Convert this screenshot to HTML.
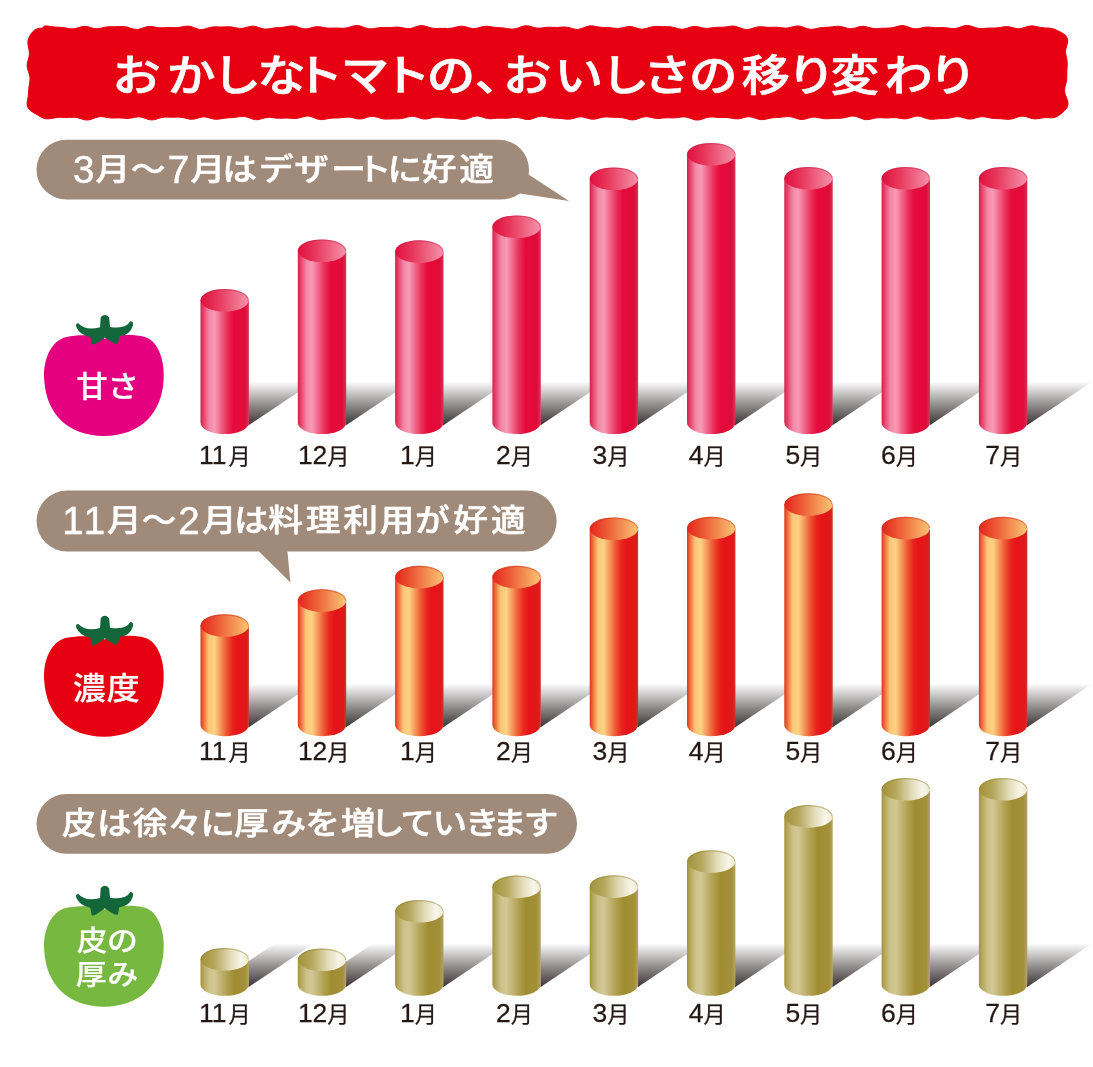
<!DOCTYPE html>
<html lang="ja"><head><meta charset="utf-8"><title>おかしなトマトの、おいしさの移り変わり</title>
<style>html,body{margin:0;padding:0;background:#fff}body{width:1093px;height:1067px;overflow:hidden;font-family:"Liberation Sans", "Noto Sans CJK JP", sans-serif}svg{display:block}</style>
</head><body>
<svg width="1093" height="1067" viewBox="0 0 1093 1067">
<defs>
<filter id="rough" x="-2%" y="-8%" width="104%" height="116%">
 <feTurbulence type="fractalNoise" baseFrequency="0.035" numOctaves="2" seed="7" result="n"/>
 <feDisplacementMap in="SourceGraphic" in2="n" scale="9" xChannelSelector="R" yChannelSelector="G"/>
</filter>
<linearGradient id="g1" x1="0" x2="1" y1="0" y2="0">
 <stop offset="0" stop-color="#d51f47"/><stop offset="0.06" stop-color="#e4416a"/><stop offset="0.18" stop-color="#f388a6"/><stop offset="0.29" stop-color="#f79bb5"/><stop offset="0.42" stop-color="#f0668a"/><stop offset="0.55" stop-color="#e9305a"/><stop offset="0.68" stop-color="#e60a3b"/><stop offset="0.92" stop-color="#e00b39"/><stop offset="1" stop-color="#d03857"/>
</linearGradient>
<linearGradient id="t1" x1="0" x2="1" y1="0" y2="0">
 <stop offset="0" stop-color="#df103c"/><stop offset="0.35" stop-color="#e7365a"/><stop offset="1" stop-color="#f593ab"/>
</linearGradient>
<linearGradient id="g2" x1="0" x2="1" y1="0" y2="0">
 <stop offset="0" stop-color="#dc3420"/><stop offset="0.06" stop-color="#ee6a36"/><stop offset="0.17" stop-color="#fcc678"/><stop offset="0.29" stop-color="#fdd283"/><stop offset="0.42" stop-color="#f5935a"/><stop offset="0.53" stop-color="#ee5a34"/><stop offset="0.66" stop-color="#e8241c"/><stop offset="0.76" stop-color="#e6141a"/><stop offset="0.94" stop-color="#e01818"/><stop offset="1" stop-color="#c23a2a"/>
</linearGradient>
<linearGradient id="t2" x1="0" x2="1" y1="0" y2="0">
 <stop offset="0" stop-color="#e4241c"/><stop offset="0.35" stop-color="#ec5a34"/><stop offset="1" stop-color="#fcc674"/>
</linearGradient>
<linearGradient id="g3" x1="0" x2="1" y1="0" y2="0">
 <stop offset="0" stop-color="#a3933a"/><stop offset="0.06" stop-color="#b4a65a"/><stop offset="0.18" stop-color="#cdc28a"/><stop offset="0.29" stop-color="#d3c894"/><stop offset="0.42" stop-color="#c1b374"/><stop offset="0.55" stop-color="#b0a04e"/><stop offset="0.7" stop-color="#a08c30"/><stop offset="0.92" stop-color="#a4903a"/><stop offset="1" stop-color="#b3a464"/>
</linearGradient>
<linearGradient id="t3" x1="0" x2="1" y1="0" y2="0">
 <stop offset="0" stop-color="#a3923a"/><stop offset="0.3" stop-color="#b6a85e"/><stop offset="0.62" stop-color="#e2dcb8"/><stop offset="0.85" stop-color="#f8f6ea"/><stop offset="1" stop-color="#efeacf"/>
</linearGradient>
</defs>
<rect width="1093" height="1067" fill="#fff"/>
<path d="M44.5,26 L47,25.98 L49.5,26.27 L52.01,26.66 L54.51,26.97 L57.01,27.15 L59.51,27.27 L62.02,27.45 L64.52,27.79 L67.02,28.26 L69.52,28.68 L72.03,28.86 L74.53,28.64 L77.03,28.05 L79.53,27.28 L82.04,26.63 L84.54,26.37 L87.04,26.61 L89.54,27.24 L92.05,28 L94.55,28.56 L97.05,28.72 L99.55,28.45 L102.06,27.9 L104.56,27.31 L107.06,26.88 L109.56,26.7 L112.07,26.7 L114.57,26.73 L117.07,26.68 L119.57,26.56 L122.08,26.49 L124.58,26.63 L127.08,27.1 L129.58,27.85 L132.09,28.68 L134.59,29.3 L137.09,29.46 L139.59,29.07 L142.1,28.28 L144.6,27.37 L147.1,26.68 L149.6,26.41 L152.11,26.58 L154.61,27.03 L157.11,27.5 L159.61,27.79 L162.12,27.82 L164.62,27.66 L167.12,27.49 L169.62,27.42 L172.13,27.5 L174.63,27.6 L177.13,27.58 L179.63,27.31 L182.14,26.85 L184.64,26.36 L187.14,26.1 L189.64,26.27 L192.15,26.91 L194.65,27.86 L197.15,28.8 L199.65,29.41 L202.16,29.5 L204.66,29.07 L207.16,28.34 L209.66,27.59 L212.17,27.06 L214.67,26.84 L217.17,26.85 L219.67,26.94 L222.18,26.96 L224.68,26.87 L227.18,26.77 L229.68,26.8 L232.19,27.07 L234.69,27.56 L237.19,28.08 L239.69,28.4 L242.2,28.34 L244.7,27.87 L247.2,27.14 L249.7,26.47 L252.21,26.14 L254.71,26.32 L257.21,26.96 L259.71,27.81 L262.22,28.56 L264.72,28.98 L267.22,28.98 L269.72,28.67 L272.23,28.24 L274.73,27.87 L277.23,27.65 L279.73,27.5 L282.24,27.3 L284.74,26.96 L287.24,26.49 L289.74,26.07 L292.25,25.89 L294.75,26.13 L297.25,26.77 L299.75,27.65 L302.26,28.44 L304.76,28.87 L307.26,28.78 L309.76,28.25 L312.27,27.53 L314.77,26.92 L317.27,26.65 L319.77,26.79 L322.28,27.22 L324.78,27.7 L327.28,28.03 L329.78,28.13 L332.29,28.07 L334.79,27.99 L337.29,28 L339.79,28.12 L342.3,28.22 L344.8,28.14 L347.3,27.74 L349.8,27.05 L352.31,26.25 L354.81,25.63 L357.31,25.46 L359.81,25.84 L362.32,26.66 L364.82,27.65 L367.32,28.46 L369.82,28.87 L372.33,28.8 L374.83,28.42 L377.33,27.95 L379.83,27.61 L382.34,27.49 L384.84,27.54 L387.34,27.6 L389.84,27.54 L392.35,27.35 L394.85,27.13 L397.35,27.05 L399.85,27.24 L402.36,27.68 L404.86,28.21 L407.36,28.57 L409.86,28.53 L412.37,28.03 L414.87,27.18 L417.37,26.3 L419.87,25.7 L422.38,25.61 L424.88,26.02 L427.38,26.76 L429.88,27.56 L432.39,28.15 L434.89,28.42 L437.39,28.45 L439.89,28.36 L442.4,28.32 L444.9,28.36 L447.4,28.41 L449.9,28.31 L452.41,27.96 L454.91,27.38 L457.41,26.73 L459.91,26.28 L462.42,26.22 L464.92,26.62 L467.42,27.34 L469.92,28.09 L472.43,28.55 L474.93,28.54 L477.43,28.07 L479.93,27.35 L482.44,26.67 L484.94,26.29 L487.44,26.29 L489.94,26.61 L492.45,27.03 L494.95,27.39 L497.45,27.6 L499.95,27.72 L502.46,27.86 L504.96,28.15 L507.46,28.56 L509.96,28.96 L512.47,29.12 L514.97,28.87 L517.47,28.19 L519.97,27.25 L522.48,26.36 L524.98,25.81 L527.48,25.8 L529.98,26.28 L532.49,27.02 L534.99,27.72 L537.49,28.12 L539.99,28.14 L542.5,27.87 L545,27.52 L547.5,27.27 L550,27.23 L552.5,27.32 L555.01,27.42 L557.51,27.39 L560.01,27.22 L562.51,27.03 L565.02,26.99 L567.52,27.26 L570.02,27.85 L572.52,28.59 L575.03,29.19 L577.53,29.38 L580.03,29.03 L582.53,28.21 L585.04,27.21 L587.54,26.34 L590.04,25.87 L592.54,25.88 L595.05,26.26 L597.55,26.77 L600.05,27.19 L602.55,27.42 L605.06,27.49 L607.56,27.53 L610.06,27.68 L612.56,27.96 L615.07,28.25 L617.57,28.39 L620.07,28.23 L622.57,27.76 L625.08,27.14 L627.58,26.64 L630.08,26.5 L632.58,26.84 L635.09,27.55 L637.59,28.36 L640.09,28.95 L642.59,29.08 L645.1,28.72 L647.6,28.03 L650.1,27.26 L652.6,26.68 L655.11,26.41 L657.61,26.41 L660.11,26.53 L662.61,26.63 L665.12,26.64 L667.62,26.65 L670.12,26.8 L672.62,27.19 L675.13,27.82 L677.63,28.53 L680.13,29.07 L682.63,29.19 L685.14,28.81 L687.64,28.06 L690.14,27.2 L692.64,26.58 L695.15,26.4 L697.65,26.7 L700.15,27.29 L702.65,27.9 L705.16,28.28 L707.66,28.3 L710.16,28.05 L712.66,27.69 L715.17,27.4 L717.67,27.26 L720.17,27.23 L722.67,27.18 L725.18,26.98 L727.68,26.63 L730.18,26.26 L732.68,26.09 L735.19,26.31 L737.69,26.97 L740.19,27.91 L742.69,28.83 L745.2,29.43 L747.7,29.49 L750.2,29.02 L752.7,28.24 L755.21,27.43 L757.71,26.89 L760.21,26.72 L762.71,26.85 L765.22,27.11 L767.72,27.3 L770.22,27.34 L772.72,27.26 L775.23,27.2 L777.73,27.3 L780.23,27.56 L782.73,27.89 L785.24,28.08 L787.74,27.95 L790.24,27.48 L792.74,26.8 L795.25,26.2 L797.75,25.95 L800.25,26.22 L802.75,26.95 L805.26,27.91 L807.76,28.76 L810.26,29.23 L812.76,29.23 L815.27,28.84 L817.77,28.28 L820.27,27.78 L822.77,27.47 L825.28,27.32 L827.78,27.2 L830.28,27.01 L832.78,26.71 L835.29,26.39 L837.79,26.25 L840.29,26.43 L842.79,26.96 L845.3,27.69 L847.8,28.35 L850.3,28.67 L852.8,28.5 L855.31,27.91 L857.81,27.14 L860.31,26.52 L862.81,26.3 L865.32,26.55 L867.82,27.14 L870.32,27.81 L872.82,28.33 L875.33,28.55 L877.83,28.5 L880.33,28.33 L882.83,28.19 L885.34,28.14 L887.84,28.11 L890.34,27.98 L892.84,27.6 L895.35,26.99 L897.85,26.27 L900.35,25.72 L902.85,25.58 L905.36,25.96 L907.86,26.77 L910.36,27.72 L912.86,28.5 L915.37,28.84 L917.87,28.68 L920.37,28.18 L922.87,27.6 L925.38,27.18 L927.88,27.07 L930.38,27.21 L932.88,27.46 L935.39,27.64 L937.89,27.67 L940.39,27.59 L942.89,27.55 L945.4,27.67 L947.9,27.98 L950.4,28.36 L952.9,28.59 L955.41,28.46 L957.91,27.9 L960.41,27.03 L962.91,26.14 L965.42,25.54 L967.92,25.46 L970.42,25.92 L972.92,26.75 L975.43,27.62 L977.93,28.27 L980.43,28.55 L982.93,28.5 L985.44,28.28 L987.94,28.09 L990.44,28.02 L992.94,28.03 L995.45,28.01 L997.95,27.82 L1000.45,27.44 L1002.95,26.98 L1005.46,26.65 L1007.96,26.65 L1010.46,27.03 L1012.96,27.69 L1015.47,28.35 L1017.97,28.71 L1020.47,28.59 L1022.97,28 L1025.48,27.15 L1027.98,26.36 L1030.48,25.9 L1032.98,25.91 L1035.49,26.31 L1037.99,26.89 L1040.49,27.42 L1042.99,27.76 L1045.5,27.93 L1048,28.05 L1050.5,28.22 L1052.85,28.69 L1055.05,29.51 L1057.13,30.49 L1059.21,31.51 L1061.4,32.6 L1063.65,33.95 L1065.68,35.76 L1067.14,38.09 L1067.72,40.77 L1067.4,43.5 L1066.62,46.04 L1065.92,48.59 L1065.59,51.13 L1065.72,53.67 L1066.19,56.22 L1066.75,58.76 L1067.15,61.3 L1067.27,63.85 L1067.16,66.39 L1066.97,68.93 L1066.84,71.48 L1066.82,74.02 L1066.84,76.57 L1066.73,79.11 L1066.36,81.65 L1065.75,84.2 L1065.09,86.74 L1064.65,89.28 L1064.67,91.83 L1065.24,94.37 L1066.18,96.91 L1067.2,99.46 L1067.94,102 L1067.96,104.77 L1067.07,107.38 L1065.52,109.66 L1063.66,111.56 L1061.72,113.22 L1059.76,114.75 L1057.69,116.11 L1055.43,117.17 L1053,117.76 L1050.5,117.83 L1048,117.67 L1045.5,117.64 L1042.99,117.83 L1040.49,118.23 L1037.99,118.66 L1035.49,118.89 L1032.98,118.71 L1030.48,118.13 L1027.98,117.3 L1025.48,116.54 L1022.97,116.14 L1020.47,116.28 L1017.97,116.91 L1015.47,117.8 L1012.96,118.63 L1010.46,119.17 L1007.96,119.32 L1005.46,119.18 L1002.95,118.93 L1000.45,118.73 L997.95,118.63 L995.45,118.57 L992.94,118.4 L990.44,118.04 L987.94,117.51 L985.44,116.99 L982.93,116.69 L980.43,116.8 L977.93,117.32 L975.43,118.07 L972.92,118.76 L970.42,119.09 L967.92,118.93 L965.42,118.35 L962.91,117.59 L960.41,116.96 L957.91,116.7 L955.41,116.87 L952.9,117.34 L950.4,117.88 L947.9,118.31 L945.4,118.53 L942.89,118.61 L940.39,118.68 L937.89,118.84 L935.39,119.09 L932.88,119.29 L930.38,119.25 L927.88,118.85 L925.38,118.1 L922.87,117.2 L920.37,116.44 L917.87,116.11 L915.37,116.33 L912.86,116.99 L910.36,117.84 L907.86,118.55 L905.36,118.88 L902.85,118.79 L900.35,118.41 L897.85,117.98 L895.35,117.7 L892.84,117.66 L890.34,117.79 L887.84,117.94 L885.34,117.98 L882.83,117.88 L880.33,117.76 L877.83,117.79 L875.33,118.08 L872.82,118.61 L870.32,119.22 L867.82,119.62 L865.32,119.58 L862.81,119.03 L860.31,118.1 L857.81,117.1 L855.31,116.35 L852.8,116.09 L850.3,116.33 L847.8,116.92 L845.3,117.58 L842.79,118.08 L840.29,118.32 L837.79,118.35 L835.29,118.33 L832.78,118.4 L830.28,118.57 L827.78,118.75 L825.28,118.78 L822.77,118.55 L820.27,118.08 L817.77,117.52 L815.27,117.13 L812.76,117.13 L810.26,117.56 L807.76,118.3 L805.26,119.04 L802.75,119.47 L800.25,119.41 L797.75,118.87 L795.25,118.05 L792.74,117.26 L790.24,116.74 L787.74,116.6 L785.24,116.77 L782.73,117.07 L780.23,117.33 L777.73,117.49 L775.23,117.6 L772.72,117.8 L770.22,118.19 L767.72,118.75 L765.22,119.31 L762.71,119.64 L760.21,119.55 L757.71,119.01 L755.21,118.17 L752.7,117.35 L750.2,116.83 L747.7,116.81 L745.2,117.25 L742.69,117.93 L740.19,118.55 L737.69,118.86 L735.19,118.78 L732.68,118.41 L730.18,117.96 L727.68,117.63 L725.18,117.48 L722.67,117.49 L720.17,117.5 L717.67,117.4 L715.17,117.19 L712.66,116.99 L710.16,116.99 L707.66,117.35 L705.16,118.06 L702.65,118.95 L700.15,119.72 L697.65,120.08 L695.15,119.88 L692.64,119.19 L690.14,118.27 L687.64,117.44 L685.14,116.96 L682.63,116.92 L680.13,117.19 L677.63,117.57 L675.13,117.85 L672.62,117.93 L670.12,117.87 L667.62,117.81 L665.12,117.88 L662.61,118.09 L660.11,118.35 L657.61,118.45 L655.11,118.28 L652.6,117.81 L650.1,117.22 L647.6,116.77 L645.1,116.71 L642.59,117.14 L640.09,117.97 L637.59,118.92 L635.09,119.65 L632.58,119.92 L630.08,119.68 L627.58,119.07 L625.08,118.36 L622.57,117.79 L620.07,117.47 L617.57,117.36 L615.07,117.35 L612.56,117.27 L610.06,117.11 L607.56,116.96 L605.06,116.96 L602.55,117.25 L600.05,117.82 L597.55,118.51 L595.05,119.06 L592.54,119.22 L590.04,118.9 L587.54,118.23 L585.04,117.47 L582.53,116.95 L580.03,116.87 L577.53,117.27 L575.03,117.96 L572.52,118.66 L570.02,119.12 L567.52,119.23 L565.02,119.03 L562.51,118.71 L560.01,118.42 L557.51,118.26 L555.01,118.15 L552.5,117.98 L550,117.62 L547.5,117.1 L545,116.56 L542.5,116.23 L539.99,116.33 L537.49,116.9 L534.99,117.8 L532.49,118.74 L529.98,119.4 L527.48,119.56 L524.98,119.22 L522.48,118.57 L519.97,117.92 L517.47,117.51 L514.97,117.45 L512.47,117.67 L509.96,118 L507.46,118.22 L504.96,118.28 L502.46,118.2 L499.95,118.13 L497.45,118.2 L494.95,118.42 L492.45,118.68 L489.94,118.77 L487.44,118.52 L484.94,117.91 L482.44,117.1 L479.93,116.35 L477.43,115.99 L474.93,116.17 L472.43,116.85 L469.92,117.81 L467.42,118.71 L464.92,119.28 L462.42,119.41 L459.91,119.18 L457.41,118.8 L454.91,118.48 L452.41,118.31 L449.9,118.27 L447.4,118.22 L444.9,118.05 L442.4,117.72 L439.89,117.36 L437.39,117.15 L434.89,117.25 L432.39,117.69 L429.88,118.32 L427.38,118.88 L424.88,119.09 L422.38,118.82 L419.87,118.14 L417.37,117.28 L414.87,116.59 L412.37,116.32 L409.86,116.54 L407.36,117.12 L404.86,117.84 L402.36,118.43 L399.85,118.76 L397.35,118.86 L394.85,118.86 L392.35,118.89 L389.84,119 L387.34,119.11 L384.84,119.06 L382.34,118.72 L379.83,118.08 L377.33,117.3 L374.83,116.65 L372.33,116.38 L369.82,116.62 L367.32,117.28 L364.82,118.1 L362.32,118.76 L359.81,119.01 L357.31,118.79 L354.81,118.25 L352.31,117.64 L349.8,117.23 L347.3,117.14 L344.8,117.33 L342.3,117.63 L339.79,117.87 L337.29,117.99 L334.79,118.03 L332.29,118.11 L329.78,118.38 L327.28,118.83 L324.78,119.33 L322.28,119.65 L319.77,119.56 L317.27,119 L314.77,118.07 L312.27,117.08 L309.76,116.34 L307.26,116.1 L304.76,116.4 L302.26,117.05 L299.75,117.78 L297.25,118.32 L294.75,118.52 L292.25,118.45 L289.74,118.25 L287.24,118.11 L284.74,118.12 L282.24,118.23 L279.73,118.3 L277.23,118.21 L274.73,117.93 L272.23,117.56 L269.72,117.33 L267.22,117.42 L264.72,117.89 L262.22,118.62 L259.71,119.33 L257.21,119.72 L254.71,119.6 L252.21,118.96 L249.7,118.03 L247.2,117.13 L244.7,116.54 L242.2,116.38 L239.69,116.61 L237.19,117.03 L234.69,117.43 L232.19,117.68 L229.68,117.81 L227.18,117.94 L224.68,118.19 L222.18,118.57 L219.67,119 L217.17,119.26 L214.67,119.18 L212.17,118.72 L209.66,118.01 L207.16,117.31 L204.66,116.91 L202.16,117 L199.65,117.53 L197.15,118.3 L194.65,118.97 L192.15,119.28 L189.64,119.14 L187.14,118.62 L184.64,117.98 L182.14,117.44 L179.63,117.15 L177.13,117.1 L174.63,117.16 L172.13,117.19 L169.62,117.13 L167.12,117.06 L164.62,117.12 L162.12,117.46 L159.61,118.11 L157.11,118.92 L154.61,119.61 L152.11,119.93 L149.6,119.72 L147.1,119.04 L144.6,118.13 L142.1,117.33 L139.59,116.91 L137.09,116.96 L134.59,117.37 L132.09,117.9 L129.58,118.3 L127.08,118.42 L124.58,118.31 L122.08,118.09 L119.57,117.93 L117.07,117.91 L114.57,117.99 L112.07,118.02 L109.56,117.86 L107.06,117.48 L104.56,117.01 L102.06,116.67 L99.55,116.69 L97.05,117.19 L94.55,118.06 L92.05,119.04 L89.54,119.78 L87.04,120.05 L84.54,119.77 L82.04,119.09 L79.53,118.29 L77.03,117.64 L74.53,117.31 L72.03,117.28 L69.52,117.39 L67.02,117.49 L64.52,117.48 L62.02,117.39 L59.51,117.35 L57.01,117.51 L54.51,117.89 L52.01,118.39 L49.5,118.78 L47,118.85 L44.5,118.51 L42.02,117.65 L39.82,116.39 L37.84,115.08 L35.86,113.89 L33.74,112.76 L31.51,111.44 L29.44,109.67 L27.89,107.4 L27.13,104.75 L27.17,102 L27.63,99.46 L28.08,96.91 L28.38,94.37 L28.55,91.83 L28.72,89.28 L28.99,86.74 L29.4,84.2 L29.82,81.65 L30.04,79.11 L29.87,76.57 L29.28,74.02 L28.43,71.48 L27.62,68.93 L27.16,66.39 L27.22,63.85 L27.75,61.3 L28.5,58.76 L29.14,56.22 L29.41,53.67 L29.25,51.13 L28.78,48.59 L28.25,46.04 L27.89,43.5 L27.98,40.88 L28.66,38.35 L29.76,35.99 L31.13,33.79 L32.76,31.76 L34.71,30.02 L36.99,28.76 L39.52,28.16 L42.09,28.26Z" fill="#e60012" stroke="#e60012" stroke-width="1" stroke-linejoin="round"/>
<text transform="scale(1.13,1)" x="99.23 147.82 188.01 227.63 260.95 301.45 338.3 377.62 420.07 445.25 490.79 531.63 569.22 609.83 656.15 696.46 734.87 782.61 821.69" y="91" font-family='"Liberation Sans", "Noto Sans CJK JP", sans-serif' font-weight="500" font-size="43" fill="#fff" stroke="#fff" stroke-width="0.6" stroke-linejoin="round">おかしなトマトの、おいしさの移り変わり</text>
<linearGradient id="s0" gradientUnits="userSpaceOnUse" x1="0" x2="0" y1="425.4" y2="381.4"><stop offset="0" stop-color="#3a3232" stop-opacity="1"/><stop offset="0.5" stop-color="#3a3232" stop-opacity="0.52"/><stop offset="1" stop-color="#3a3232" stop-opacity="0"/></linearGradient>
<polygon points="248.4,425.4 320.04,377.4 320.04,329.4 248.4,377.4" fill="url(#s0)"/>
<polygon points="345.7,425.4 417.34,377.4 417.34,329.4 345.7,377.4" fill="url(#s0)"/>
<polygon points="443,425.4 514.64,377.4 514.64,329.4 443,377.4" fill="url(#s0)"/>
<polygon points="540.3,425.4 611.94,377.4 611.94,329.4 540.3,377.4" fill="url(#s0)"/>
<polygon points="637.6,425.4 709.24,377.4 709.24,329.4 637.6,377.4" fill="url(#s0)"/>
<polygon points="734.9,425.4 806.54,377.4 806.54,329.4 734.9,377.4" fill="url(#s0)"/>
<polygon points="832.2,425.4 903.84,377.4 903.84,329.4 832.2,377.4" fill="url(#s0)"/>
<polygon points="929.5,425.4 1001.14,377.4 1001.14,329.4 929.5,377.4" fill="url(#s0)"/>
<polygon points="1026.8,425.4 1098.44,377.4 1098.44,329.4 1026.8,377.4" fill="url(#s0)"/>
<path d="M200.5,300.3 L200.5,422.7 A24.2,11.3 0 0 0 248.9,422.7 L248.9,300.3 Z" fill="url(#g1)"/>
<ellipse cx="224.7" cy="300.3" rx="24.2" ry="11.3" fill="url(#t1)"/>
<path d="M201.1,300.3 A23.6,10.700000000000001 0 0 1 248.3,300.3" fill="none" stroke="#c0204a" stroke-opacity="0.45" stroke-width="1.2"/>
<path d="M297.8,250.8 L297.8,422.7 A24.2,11.3 0 0 0 346.2,422.7 L346.2,250.8 Z" fill="url(#g1)"/>
<ellipse cx="322" cy="250.8" rx="24.2" ry="11.3" fill="url(#t1)"/>
<path d="M298.4,250.8 A23.6,10.700000000000001 0 0 1 345.6,250.8" fill="none" stroke="#c0204a" stroke-opacity="0.45" stroke-width="1.2"/>
<path d="M395.1,251.6 L395.1,422.7 A24.2,11.3 0 0 0 443.5,422.7 L443.5,251.6 Z" fill="url(#g1)"/>
<ellipse cx="419.3" cy="251.6" rx="24.2" ry="11.3" fill="url(#t1)"/>
<path d="M395.7,251.6 A23.6,10.700000000000001 0 0 1 442.9,251.6" fill="none" stroke="#c0204a" stroke-opacity="0.45" stroke-width="1.2"/>
<path d="M492.4,226.7 L492.4,422.7 A24.2,11.3 0 0 0 540.8,422.7 L540.8,226.7 Z" fill="url(#g1)"/>
<ellipse cx="516.6" cy="226.7" rx="24.2" ry="11.3" fill="url(#t1)"/>
<path d="M493,226.7 A23.6,10.700000000000001 0 0 1 540.2,226.7" fill="none" stroke="#c0204a" stroke-opacity="0.45" stroke-width="1.2"/>
<path d="M589.7,178.8 L589.7,422.7 A24.2,11.3 0 0 0 638.1,422.7 L638.1,178.8 Z" fill="url(#g1)"/>
<ellipse cx="613.9" cy="178.8" rx="24.2" ry="11.3" fill="url(#t1)"/>
<path d="M590.3,178.8 A23.6,10.700000000000001 0 0 1 637.5,178.8" fill="none" stroke="#c0204a" stroke-opacity="0.45" stroke-width="1.2"/>
<path d="M687,154.3 L687,422.7 A24.2,11.3 0 0 0 735.4,422.7 L735.4,154.3 Z" fill="url(#g1)"/>
<ellipse cx="711.2" cy="154.3" rx="24.2" ry="11.3" fill="url(#t1)"/>
<path d="M687.6,154.3 A23.6,10.700000000000001 0 0 1 734.8,154.3" fill="none" stroke="#c0204a" stroke-opacity="0.45" stroke-width="1.2"/>
<path d="M784.3,178.3 L784.3,422.7 A24.2,11.3 0 0 0 832.7,422.7 L832.7,178.3 Z" fill="url(#g1)"/>
<ellipse cx="808.5" cy="178.3" rx="24.2" ry="11.3" fill="url(#t1)"/>
<path d="M784.9,178.3 A23.6,10.700000000000001 0 0 1 832.1,178.3" fill="none" stroke="#c0204a" stroke-opacity="0.45" stroke-width="1.2"/>
<path d="M881.6,178.3 L881.6,422.7 A24.2,11.3 0 0 0 930,422.7 L930,178.3 Z" fill="url(#g1)"/>
<ellipse cx="905.8" cy="178.3" rx="24.2" ry="11.3" fill="url(#t1)"/>
<path d="M882.2,178.3 A23.6,10.700000000000001 0 0 1 929.4,178.3" fill="none" stroke="#c0204a" stroke-opacity="0.45" stroke-width="1.2"/>
<path d="M978.9,178.3 L978.9,422.7 A24.2,11.3 0 0 0 1027.3,422.7 L1027.3,178.3 Z" fill="url(#g1)"/>
<ellipse cx="1003.1" cy="178.3" rx="24.2" ry="11.3" fill="url(#t1)"/>
<path d="M979.5,178.3 A23.6,10.700000000000001 0 0 1 1026.7,178.3" fill="none" stroke="#c0204a" stroke-opacity="0.45" stroke-width="1.2"/>
<text transform="translate(199.09,464) scale(1.06,1)" font-family='"Liberation Sans", "Noto Sans CJK JP", sans-serif' font-size="25" fill="#231815" stroke="#231815" stroke-width="0.25">11</text>
<text transform="translate(228.56,464) scale(1.02,1)" font-family='"Liberation Sans", "Noto Sans CJK JP", sans-serif' font-size="21.8" fill="#231815" stroke="#231815" stroke-width="0.25">月</text>
<text transform="translate(297.89,464) scale(1.06,1)" font-family='"Liberation Sans", "Noto Sans CJK JP", sans-serif' font-size="25" fill="#231815" stroke="#231815" stroke-width="0.25">12</text>
<text transform="translate(327.36,464) scale(1.02,1)" font-family='"Liberation Sans", "Noto Sans CJK JP", sans-serif' font-size="21.8" fill="#231815" stroke="#231815" stroke-width="0.25">月</text>
<text transform="translate(399.96,464) scale(1.06,1)" font-family='"Liberation Sans", "Noto Sans CJK JP", sans-serif' font-size="25" fill="#231815" stroke="#231815" stroke-width="0.25">1</text>
<text transform="translate(414.69,464) scale(1.02,1)" font-family='"Liberation Sans", "Noto Sans CJK JP", sans-serif' font-size="21.8" fill="#231815" stroke="#231815" stroke-width="0.25">月</text>
<text transform="translate(496.05,464) scale(1.06,1)" font-family='"Liberation Sans", "Noto Sans CJK JP", sans-serif' font-size="25" fill="#231815" stroke="#231815" stroke-width="0.25">2</text>
<text transform="translate(510.79,464) scale(1.02,1)" font-family='"Liberation Sans", "Noto Sans CJK JP", sans-serif' font-size="21.8" fill="#231815" stroke="#231815" stroke-width="0.25">月</text>
<text transform="translate(592.49,464) scale(1.06,1)" font-family='"Liberation Sans", "Noto Sans CJK JP", sans-serif' font-size="25" fill="#231815" stroke="#231815" stroke-width="0.25">3</text>
<text transform="translate(607.22,464) scale(1.02,1)" font-family='"Liberation Sans", "Noto Sans CJK JP", sans-serif' font-size="21.8" fill="#231815" stroke="#231815" stroke-width="0.25">月</text>
<text transform="translate(688.75,464) scale(1.06,1)" font-family='"Liberation Sans", "Noto Sans CJK JP", sans-serif' font-size="25" fill="#231815" stroke="#231815" stroke-width="0.25">4</text>
<text transform="translate(703.49,464) scale(1.02,1)" font-family='"Liberation Sans", "Noto Sans CJK JP", sans-serif' font-size="21.8" fill="#231815" stroke="#231815" stroke-width="0.25">月</text>
<text transform="translate(785.39,464) scale(1.06,1)" font-family='"Liberation Sans", "Noto Sans CJK JP", sans-serif' font-size="25" fill="#231815" stroke="#231815" stroke-width="0.25">5</text>
<text transform="translate(800.12,464) scale(1.02,1)" font-family='"Liberation Sans", "Noto Sans CJK JP", sans-serif' font-size="21.8" fill="#231815" stroke="#231815" stroke-width="0.25">月</text>
<text transform="translate(881.05,464) scale(1.06,1)" font-family='"Liberation Sans", "Noto Sans CJK JP", sans-serif' font-size="25" fill="#231815" stroke="#231815" stroke-width="0.25">6</text>
<text transform="translate(895.79,464) scale(1.02,1)" font-family='"Liberation Sans", "Noto Sans CJK JP", sans-serif' font-size="21.8" fill="#231815" stroke="#231815" stroke-width="0.25">月</text>
<text transform="translate(985.35,464) scale(1.06,1)" font-family='"Liberation Sans", "Noto Sans CJK JP", sans-serif' font-size="25" fill="#231815" stroke="#231815" stroke-width="0.25">7</text>
<text transform="translate(1000.09,464) scale(1.02,1)" font-family='"Liberation Sans", "Noto Sans CJK JP", sans-serif' font-size="21.8" fill="#231815" stroke="#231815" stroke-width="0.25">月</text>
<linearGradient id="s1" gradientUnits="userSpaceOnUse" x1="0" x2="0" y1="727.6" y2="683.6"><stop offset="0" stop-color="#3a3232" stop-opacity="1"/><stop offset="0.5" stop-color="#3a3232" stop-opacity="0.52"/><stop offset="1" stop-color="#3a3232" stop-opacity="0"/></linearGradient>
<polygon points="248.4,727.6 320.04,679.6 320.04,631.6 248.4,679.6" fill="url(#s1)"/>
<polygon points="345.7,727.6 417.34,679.6 417.34,631.6 345.7,679.6" fill="url(#s1)"/>
<polygon points="443,727.6 514.64,679.6 514.64,631.6 443,679.6" fill="url(#s1)"/>
<polygon points="540.3,727.6 611.94,679.6 611.94,631.6 540.3,679.6" fill="url(#s1)"/>
<polygon points="637.6,727.6 709.24,679.6 709.24,631.6 637.6,679.6" fill="url(#s1)"/>
<polygon points="734.9,727.6 806.54,679.6 806.54,631.6 734.9,679.6" fill="url(#s1)"/>
<polygon points="832.2,727.6 903.84,679.6 903.84,631.6 832.2,679.6" fill="url(#s1)"/>
<polygon points="929.5,727.6 1001.14,679.6 1001.14,631.6 929.5,679.6" fill="url(#s1)"/>
<polygon points="1026.8,727.6 1098.44,679.6 1098.44,631.6 1026.8,679.6" fill="url(#s1)"/>
<path d="M200.5,625.5 L200.5,724.9 A24.2,11.3 0 0 0 248.9,724.9 L248.9,625.5 Z" fill="url(#g2)"/>
<ellipse cx="224.7" cy="625.5" rx="24.2" ry="11.3" fill="url(#t2)"/>
<path d="M201.1,625.5 A23.6,10.700000000000001 0 0 1 248.3,625.5" fill="none" stroke="#c8301c" stroke-opacity="0.45" stroke-width="1.2"/>
<path d="M297.8,600.6 L297.8,724.9 A24.2,11.3 0 0 0 346.2,724.9 L346.2,600.6 Z" fill="url(#g2)"/>
<ellipse cx="322" cy="600.6" rx="24.2" ry="11.3" fill="url(#t2)"/>
<path d="M298.4,600.6 A23.6,10.700000000000001 0 0 1 345.6,600.6" fill="none" stroke="#c8301c" stroke-opacity="0.45" stroke-width="1.2"/>
<path d="M395.1,577.1 L395.1,724.9 A24.2,11.3 0 0 0 443.5,724.9 L443.5,577.1 Z" fill="url(#g2)"/>
<ellipse cx="419.3" cy="577.1" rx="24.2" ry="11.3" fill="url(#t2)"/>
<path d="M395.7,577.1 A23.6,10.700000000000001 0 0 1 442.9,577.1" fill="none" stroke="#c8301c" stroke-opacity="0.45" stroke-width="1.2"/>
<path d="M492.4,577.1 L492.4,724.9 A24.2,11.3 0 0 0 540.8,724.9 L540.8,577.1 Z" fill="url(#g2)"/>
<ellipse cx="516.6" cy="577.1" rx="24.2" ry="11.3" fill="url(#t2)"/>
<path d="M493,577.1 A23.6,10.700000000000001 0 0 1 540.2,577.1" fill="none" stroke="#c8301c" stroke-opacity="0.45" stroke-width="1.2"/>
<path d="M589.7,528.8 L589.7,724.9 A24.2,11.3 0 0 0 638.1,724.9 L638.1,528.8 Z" fill="url(#g2)"/>
<ellipse cx="613.9" cy="528.8" rx="24.2" ry="11.3" fill="url(#t2)"/>
<path d="M590.3,528.8 A23.6,10.700000000000001 0 0 1 637.5,528.8" fill="none" stroke="#c8301c" stroke-opacity="0.45" stroke-width="1.2"/>
<path d="M687,528.1 L687,724.9 A24.2,11.3 0 0 0 735.4,724.9 L735.4,528.1 Z" fill="url(#g2)"/>
<ellipse cx="711.2" cy="528.1" rx="24.2" ry="11.3" fill="url(#t2)"/>
<path d="M687.6,528.1 A23.6,10.700000000000001 0 0 1 734.8,528.1" fill="none" stroke="#c8301c" stroke-opacity="0.45" stroke-width="1.2"/>
<path d="M784.3,504.5 L784.3,724.9 A24.2,11.3 0 0 0 832.7,724.9 L832.7,504.5 Z" fill="url(#g2)"/>
<ellipse cx="808.5" cy="504.5" rx="24.2" ry="11.3" fill="url(#t2)"/>
<path d="M784.9,504.5 A23.6,10.700000000000001 0 0 1 832.1,504.5" fill="none" stroke="#c8301c" stroke-opacity="0.45" stroke-width="1.2"/>
<path d="M881.6,528.1 L881.6,724.9 A24.2,11.3 0 0 0 930,724.9 L930,528.1 Z" fill="url(#g2)"/>
<ellipse cx="905.8" cy="528.1" rx="24.2" ry="11.3" fill="url(#t2)"/>
<path d="M882.2,528.1 A23.6,10.700000000000001 0 0 1 929.4,528.1" fill="none" stroke="#c8301c" stroke-opacity="0.45" stroke-width="1.2"/>
<path d="M978.9,528.1 L978.9,724.9 A24.2,11.3 0 0 0 1027.3,724.9 L1027.3,528.1 Z" fill="url(#g2)"/>
<ellipse cx="1003.1" cy="528.1" rx="24.2" ry="11.3" fill="url(#t2)"/>
<path d="M979.5,528.1 A23.6,10.700000000000001 0 0 1 1026.7,528.1" fill="none" stroke="#c8301c" stroke-opacity="0.45" stroke-width="1.2"/>
<text transform="translate(199.09,759.8) scale(1.06,1)" font-family='"Liberation Sans", "Noto Sans CJK JP", sans-serif' font-size="25" fill="#231815" stroke="#231815" stroke-width="0.25">11</text>
<text transform="translate(228.56,759.8) scale(1.02,1)" font-family='"Liberation Sans", "Noto Sans CJK JP", sans-serif' font-size="21.8" fill="#231815" stroke="#231815" stroke-width="0.25">月</text>
<text transform="translate(297.89,759.8) scale(1.06,1)" font-family='"Liberation Sans", "Noto Sans CJK JP", sans-serif' font-size="25" fill="#231815" stroke="#231815" stroke-width="0.25">12</text>
<text transform="translate(327.36,759.8) scale(1.02,1)" font-family='"Liberation Sans", "Noto Sans CJK JP", sans-serif' font-size="21.8" fill="#231815" stroke="#231815" stroke-width="0.25">月</text>
<text transform="translate(399.96,759.8) scale(1.06,1)" font-family='"Liberation Sans", "Noto Sans CJK JP", sans-serif' font-size="25" fill="#231815" stroke="#231815" stroke-width="0.25">1</text>
<text transform="translate(414.69,759.8) scale(1.02,1)" font-family='"Liberation Sans", "Noto Sans CJK JP", sans-serif' font-size="21.8" fill="#231815" stroke="#231815" stroke-width="0.25">月</text>
<text transform="translate(496.05,759.8) scale(1.06,1)" font-family='"Liberation Sans", "Noto Sans CJK JP", sans-serif' font-size="25" fill="#231815" stroke="#231815" stroke-width="0.25">2</text>
<text transform="translate(510.79,759.8) scale(1.02,1)" font-family='"Liberation Sans", "Noto Sans CJK JP", sans-serif' font-size="21.8" fill="#231815" stroke="#231815" stroke-width="0.25">月</text>
<text transform="translate(592.49,759.8) scale(1.06,1)" font-family='"Liberation Sans", "Noto Sans CJK JP", sans-serif' font-size="25" fill="#231815" stroke="#231815" stroke-width="0.25">3</text>
<text transform="translate(607.22,759.8) scale(1.02,1)" font-family='"Liberation Sans", "Noto Sans CJK JP", sans-serif' font-size="21.8" fill="#231815" stroke="#231815" stroke-width="0.25">月</text>
<text transform="translate(688.75,759.8) scale(1.06,1)" font-family='"Liberation Sans", "Noto Sans CJK JP", sans-serif' font-size="25" fill="#231815" stroke="#231815" stroke-width="0.25">4</text>
<text transform="translate(703.49,759.8) scale(1.02,1)" font-family='"Liberation Sans", "Noto Sans CJK JP", sans-serif' font-size="21.8" fill="#231815" stroke="#231815" stroke-width="0.25">月</text>
<text transform="translate(785.39,759.8) scale(1.06,1)" font-family='"Liberation Sans", "Noto Sans CJK JP", sans-serif' font-size="25" fill="#231815" stroke="#231815" stroke-width="0.25">5</text>
<text transform="translate(800.12,759.8) scale(1.02,1)" font-family='"Liberation Sans", "Noto Sans CJK JP", sans-serif' font-size="21.8" fill="#231815" stroke="#231815" stroke-width="0.25">月</text>
<text transform="translate(881.05,759.8) scale(1.06,1)" font-family='"Liberation Sans", "Noto Sans CJK JP", sans-serif' font-size="25" fill="#231815" stroke="#231815" stroke-width="0.25">6</text>
<text transform="translate(895.79,759.8) scale(1.02,1)" font-family='"Liberation Sans", "Noto Sans CJK JP", sans-serif' font-size="21.8" fill="#231815" stroke="#231815" stroke-width="0.25">月</text>
<text transform="translate(985.35,759.8) scale(1.06,1)" font-family='"Liberation Sans", "Noto Sans CJK JP", sans-serif' font-size="25" fill="#231815" stroke="#231815" stroke-width="0.25">7</text>
<text transform="translate(1000.09,759.8) scale(1.02,1)" font-family='"Liberation Sans", "Noto Sans CJK JP", sans-serif' font-size="21.8" fill="#231815" stroke="#231815" stroke-width="0.25">月</text>
<linearGradient id="s2" gradientUnits="userSpaceOnUse" x1="0" x2="0" y1="987.2" y2="943.2"><stop offset="0" stop-color="#3a3232" stop-opacity="1"/><stop offset="0.5" stop-color="#3a3232" stop-opacity="0.52"/><stop offset="1" stop-color="#3a3232" stop-opacity="0"/></linearGradient>
<polygon points="248.4,987.2 320.04,939.2 320.04,913.3 248.4,961.3" fill="url(#s2)"/>
<polygon points="345.7,987.2 417.34,939.2 417.34,913.8 345.7,961.8" fill="url(#s2)"/>
<polygon points="443,987.2 514.64,939.2 514.64,891.2 443,939.2" fill="url(#s2)"/>
<polygon points="540.3,987.2 611.94,939.2 611.94,891.2 540.3,939.2" fill="url(#s2)"/>
<polygon points="637.6,987.2 709.24,939.2 709.24,891.2 637.6,939.2" fill="url(#s2)"/>
<polygon points="734.9,987.2 806.54,939.2 806.54,891.2 734.9,939.2" fill="url(#s2)"/>
<polygon points="832.2,987.2 903.84,939.2 903.84,891.2 832.2,939.2" fill="url(#s2)"/>
<polygon points="929.5,987.2 1001.14,939.2 1001.14,891.2 929.5,939.2" fill="url(#s2)"/>
<polygon points="1026.8,987.2 1098.44,939.2 1098.44,891.2 1026.8,939.2" fill="url(#s2)"/>
<path d="M200.5,959.3 L200.5,984.5 A24.2,11.3 0 0 0 248.9,984.5 L248.9,959.3 Z" fill="url(#g3)"/>
<ellipse cx="224.7" cy="959.3" rx="24.2" ry="11.3" fill="url(#t3)"/>
<path d="M201.1,959.3 A23.6,10.700000000000001 0 0 1 248.3,959.3" fill="none" stroke="#8c7c2c" stroke-opacity="0.45" stroke-width="1.2"/>
<path d="M297.8,959.8 L297.8,984.5 A24.2,11.3 0 0 0 346.2,984.5 L346.2,959.8 Z" fill="url(#g3)"/>
<ellipse cx="322" cy="959.8" rx="24.2" ry="11.3" fill="url(#t3)"/>
<path d="M298.4,959.8 A23.6,10.700000000000001 0 0 1 345.6,959.8" fill="none" stroke="#8c7c2c" stroke-opacity="0.45" stroke-width="1.2"/>
<path d="M395.1,911.3 L395.1,984.5 A24.2,11.3 0 0 0 443.5,984.5 L443.5,911.3 Z" fill="url(#g3)"/>
<ellipse cx="419.3" cy="911.3" rx="24.2" ry="11.3" fill="url(#t3)"/>
<path d="M395.7,911.3 A23.6,10.700000000000001 0 0 1 442.9,911.3" fill="none" stroke="#8c7c2c" stroke-opacity="0.45" stroke-width="1.2"/>
<path d="M492.4,886.9 L492.4,984.5 A24.2,11.3 0 0 0 540.8,984.5 L540.8,886.9 Z" fill="url(#g3)"/>
<ellipse cx="516.6" cy="886.9" rx="24.2" ry="11.3" fill="url(#t3)"/>
<path d="M493,886.9 A23.6,10.700000000000001 0 0 1 540.2,886.9" fill="none" stroke="#8c7c2c" stroke-opacity="0.45" stroke-width="1.2"/>
<path d="M589.7,886.6 L589.7,984.5 A24.2,11.3 0 0 0 638.1,984.5 L638.1,886.6 Z" fill="url(#g3)"/>
<ellipse cx="613.9" cy="886.6" rx="24.2" ry="11.3" fill="url(#t3)"/>
<path d="M590.3,886.6 A23.6,10.700000000000001 0 0 1 637.5,886.6" fill="none" stroke="#8c7c2c" stroke-opacity="0.45" stroke-width="1.2"/>
<path d="M687,861.5 L687,984.5 A24.2,11.3 0 0 0 735.4,984.5 L735.4,861.5 Z" fill="url(#g3)"/>
<ellipse cx="711.2" cy="861.5" rx="24.2" ry="11.3" fill="url(#t3)"/>
<path d="M687.6,861.5 A23.6,10.700000000000001 0 0 1 734.8,861.5" fill="none" stroke="#8c7c2c" stroke-opacity="0.45" stroke-width="1.2"/>
<path d="M784.3,816.4 L784.3,984.5 A24.2,11.3 0 0 0 832.7,984.5 L832.7,816.4 Z" fill="url(#g3)"/>
<ellipse cx="808.5" cy="816.4" rx="24.2" ry="11.3" fill="url(#t3)"/>
<path d="M784.9,816.4 A23.6,10.700000000000001 0 0 1 832.1,816.4" fill="none" stroke="#8c7c2c" stroke-opacity="0.45" stroke-width="1.2"/>
<path d="M881.6,789.3 L881.6,984.5 A24.2,11.3 0 0 0 930,984.5 L930,789.3 Z" fill="url(#g3)"/>
<ellipse cx="905.8" cy="789.3" rx="24.2" ry="11.3" fill="url(#t3)"/>
<path d="M882.2,789.3 A23.6,10.700000000000001 0 0 1 929.4,789.3" fill="none" stroke="#8c7c2c" stroke-opacity="0.45" stroke-width="1.2"/>
<path d="M978.9,789.3 L978.9,984.5 A24.2,11.3 0 0 0 1027.3,984.5 L1027.3,789.3 Z" fill="url(#g3)"/>
<ellipse cx="1003.1" cy="789.3" rx="24.2" ry="11.3" fill="url(#t3)"/>
<path d="M979.5,789.3 A23.6,10.700000000000001 0 0 1 1026.7,789.3" fill="none" stroke="#8c7c2c" stroke-opacity="0.45" stroke-width="1.2"/>
<text transform="translate(199.09,1021.8) scale(1.06,1)" font-family='"Liberation Sans", "Noto Sans CJK JP", sans-serif' font-size="25" fill="#231815" stroke="#231815" stroke-width="0.25">11</text>
<text transform="translate(228.56,1021.8) scale(1.02,1)" font-family='"Liberation Sans", "Noto Sans CJK JP", sans-serif' font-size="21.8" fill="#231815" stroke="#231815" stroke-width="0.25">月</text>
<text transform="translate(297.89,1021.8) scale(1.06,1)" font-family='"Liberation Sans", "Noto Sans CJK JP", sans-serif' font-size="25" fill="#231815" stroke="#231815" stroke-width="0.25">12</text>
<text transform="translate(327.36,1021.8) scale(1.02,1)" font-family='"Liberation Sans", "Noto Sans CJK JP", sans-serif' font-size="21.8" fill="#231815" stroke="#231815" stroke-width="0.25">月</text>
<text transform="translate(399.96,1021.8) scale(1.06,1)" font-family='"Liberation Sans", "Noto Sans CJK JP", sans-serif' font-size="25" fill="#231815" stroke="#231815" stroke-width="0.25">1</text>
<text transform="translate(414.69,1021.8) scale(1.02,1)" font-family='"Liberation Sans", "Noto Sans CJK JP", sans-serif' font-size="21.8" fill="#231815" stroke="#231815" stroke-width="0.25">月</text>
<text transform="translate(496.05,1021.8) scale(1.06,1)" font-family='"Liberation Sans", "Noto Sans CJK JP", sans-serif' font-size="25" fill="#231815" stroke="#231815" stroke-width="0.25">2</text>
<text transform="translate(510.79,1021.8) scale(1.02,1)" font-family='"Liberation Sans", "Noto Sans CJK JP", sans-serif' font-size="21.8" fill="#231815" stroke="#231815" stroke-width="0.25">月</text>
<text transform="translate(592.49,1021.8) scale(1.06,1)" font-family='"Liberation Sans", "Noto Sans CJK JP", sans-serif' font-size="25" fill="#231815" stroke="#231815" stroke-width="0.25">3</text>
<text transform="translate(607.22,1021.8) scale(1.02,1)" font-family='"Liberation Sans", "Noto Sans CJK JP", sans-serif' font-size="21.8" fill="#231815" stroke="#231815" stroke-width="0.25">月</text>
<text transform="translate(688.75,1021.8) scale(1.06,1)" font-family='"Liberation Sans", "Noto Sans CJK JP", sans-serif' font-size="25" fill="#231815" stroke="#231815" stroke-width="0.25">4</text>
<text transform="translate(703.49,1021.8) scale(1.02,1)" font-family='"Liberation Sans", "Noto Sans CJK JP", sans-serif' font-size="21.8" fill="#231815" stroke="#231815" stroke-width="0.25">月</text>
<text transform="translate(785.39,1021.8) scale(1.06,1)" font-family='"Liberation Sans", "Noto Sans CJK JP", sans-serif' font-size="25" fill="#231815" stroke="#231815" stroke-width="0.25">5</text>
<text transform="translate(800.12,1021.8) scale(1.02,1)" font-family='"Liberation Sans", "Noto Sans CJK JP", sans-serif' font-size="21.8" fill="#231815" stroke="#231815" stroke-width="0.25">月</text>
<text transform="translate(881.05,1021.8) scale(1.06,1)" font-family='"Liberation Sans", "Noto Sans CJK JP", sans-serif' font-size="25" fill="#231815" stroke="#231815" stroke-width="0.25">6</text>
<text transform="translate(895.79,1021.8) scale(1.02,1)" font-family='"Liberation Sans", "Noto Sans CJK JP", sans-serif' font-size="21.8" fill="#231815" stroke="#231815" stroke-width="0.25">月</text>
<text transform="translate(985.35,1021.8) scale(1.06,1)" font-family='"Liberation Sans", "Noto Sans CJK JP", sans-serif' font-size="25" fill="#231815" stroke="#231815" stroke-width="0.25">7</text>
<text transform="translate(1000.09,1021.8) scale(1.02,1)" font-family='"Liberation Sans", "Noto Sans CJK JP", sans-serif' font-size="21.8" fill="#231815" stroke="#231815" stroke-width="0.25">月</text>
<path d="M66.5,139.8 H499 A30,29.9 0 0 1 529,169.7 Q529,172 528.6,174.5 L569,201 L520,193.5 Q511,199.6 499,199.6 H66.5 A30,29.9 0 0 1 66.5,139.8 Z" fill="#a08a79"/>
<text x="73.01" y="183" font-family='"Liberation Sans", "Noto Sans CJK JP", sans-serif' font-size="38.5" fill="#fff" stroke="#fff" stroke-width="0.5">3</text>
<text x="167.82" y="183" font-family='"Liberation Sans", "Noto Sans CJK JP", sans-serif' font-size="38.5" fill="#fff" stroke="#fff" stroke-width="0.5">7</text>
<text transform="scale(1.12,1)" x="85.33 116.84 170.15 198.39 231.25 262.83 295.75 318.65 345.98 376.49 410.04" y="180.2" font-family='"Liberation Sans", "Noto Sans CJK JP", sans-serif' font-weight="500" font-size="31" fill="#fff" stroke="#fff" stroke-width="0.5" stroke-linejoin="round">月～月はデザートに好適</text>
<path d="M67,490.6 H526.2 A30.45,30.45 0 0 1 526.2,551.5 H287.4 L290.4,582.5 L259,551.5 H67 A30.45,30.45 0 0 1 67,490.6 Z" fill="#a08a79"/>
<text x="62.14" y="534.2" font-family='"Liberation Sans", "Noto Sans CJK JP", sans-serif' font-size="38.5" fill="#fff" stroke="#fff" stroke-width="0.5">1</text>
<text x="83.84" y="534.2" font-family='"Liberation Sans", "Noto Sans CJK JP", sans-serif' font-size="38.5" fill="#fff" stroke="#fff" stroke-width="0.5">1</text>
<text x="178.22" y="534.2" font-family='"Liberation Sans", "Noto Sans CJK JP", sans-serif' font-size="38.5" fill="#fff" stroke="#fff" stroke-width="0.5">2</text>
<text transform="scale(1.12,1)" x="95.6 126.58 180.42 208.93 239.5 273.07 306.52 339.13 370.64 404.61 438.43" y="531.4" font-family='"Liberation Sans", "Noto Sans CJK JP", sans-serif' font-weight="500" font-size="31" fill="#fff" stroke="#fff" stroke-width="0.5" stroke-linejoin="round">月～月は料理利用が好適</text>
<rect x="36.5" y="794" width="540.5" height="59.7" rx="29.85" fill="#a08a79"/>
<text transform="scale(1.12,1)" x="55.19 86.69 118.58 149.56 178.83 209.03 242.38 272.49 304.32 330.7 357.26 386.14 414.88 439.24 467.67" y="834.2" font-family='"Liberation Sans", "Noto Sans CJK JP", sans-serif' font-weight="500" font-size="31" fill="#fff" stroke="#fff" stroke-width="0.5" stroke-linejoin="round">皮は徐々に厚みを増していきます</text>
<g transform="translate(20,290) scale(0.16469)"><path d="M515,296 C560,272 685,264 757,285 C836,305 881,425 872,545 C862,745 735,886 510,886 C285,886 158,745 147,545 C138,425 188,305 283,285 C350,270 470,272 515,296 Z" fill="#e4007f"/><path d="M490,166 Q515,138 541,166 L547,224 Q640,240 670,190 Q691,190 686,216 Q668,276 603,282 L595,326 Q580,336 515,288 Q450,340 435,330 L427,285 Q362,272 342,224 Q335,202 354,202 Q400,250 486,226 Z" fill="#13653a"/></g>
<g transform="translate(20,590.8) scale(0.16469)"><path d="M515,296 C560,272 685,264 757,285 C836,305 881,425 872,545 C862,745 735,886 510,886 C285,886 158,745 147,545 C138,425 188,305 283,285 C350,270 470,272 515,296 Z" fill="#e60012"/><path d="M490,166 Q515,138 541,166 L547,224 Q640,240 670,190 Q691,190 686,216 Q668,276 603,282 L595,326 Q580,336 515,288 Q450,340 435,330 L427,285 Q362,272 342,224 Q335,202 354,202 Q400,250 486,226 Z" fill="#13653a"/></g>
<g transform="translate(20,860.8) scale(0.16469)"><path d="M515,296 C560,272 685,264 757,285 C836,305 881,425 872,545 C862,745 735,886 510,886 C285,886 158,745 147,545 C138,425 188,305 283,285 C350,270 470,272 515,296 Z" fill="#77b940"/><path d="M490,166 Q515,138 541,166 L547,224 Q640,240 670,190 Q691,190 686,216 Q668,276 603,282 L595,326 Q580,336 515,288 Q450,340 435,330 L427,285 Q362,272 342,224 Q335,202 354,202 Q400,250 486,226 Z" fill="#13653a"/></g>
<text transform="scale(1.05,1)" x="72.62 102.32" y="397.4" font-family='"Liberation Sans", "Noto Sans CJK JP", sans-serif' font-weight="500" font-size="30" fill="#fff" stroke="#fff" stroke-width="0.2" stroke-linejoin="round">甘さ</text>
<text transform="scale(1.08,1)" x="67.47 98.79" y="698.7" font-family='"Liberation Sans", "Noto Sans CJK JP", sans-serif' font-weight="500" font-size="30.5" fill="#fff" stroke="#fff" stroke-width="0.2" stroke-linejoin="round">濃度</text>
<text transform="scale(1.08,1)" x="71.08 99.18" y="951.2" font-family='"Liberation Sans", "Noto Sans CJK JP", sans-serif' font-weight="500" font-size="28.5" fill="#fff" stroke="#fff" stroke-width="0.2" stroke-linejoin="round">皮の</text>
<text transform="scale(1.08,1)" x="70.15 99.5" y="985.3" font-family='"Liberation Sans", "Noto Sans CJK JP", sans-serif' font-weight="500" font-size="28.5" fill="#fff" stroke="#fff" stroke-width="0.2" stroke-linejoin="round">厚み</text>
</svg>
</body></html>
